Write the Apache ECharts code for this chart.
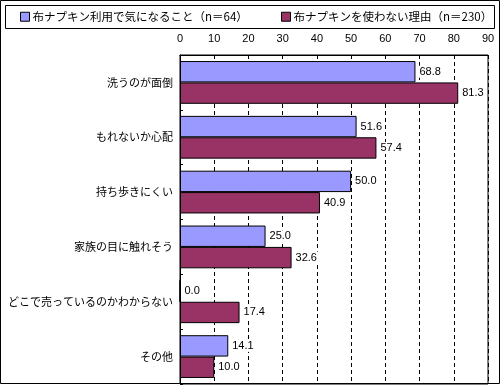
<!DOCTYPE html>
<html>
<head>
<meta charset="utf-8">
<script src="https://cdn.jsdelivr.net/npm/echarts@6/dist/echarts.min.js"></script>
<style>
html,body{margin:0;padding:0;background:#fff;}
#chart{width:500px;height:385px;}
</style>
</head>
<body>
<div id="chart"></div>
<script>
const categories = ['洗うのが面倒','もれないか心配','持ち歩きにくい','家族の目に触れそう','どこで売っているのかわからない','その他'];
const seriesNames = ['布ナプキン利用で気になること（n＝64）','布ナプキンを使わない理由（n＝230）'];
const usersValues = [68.8, 51.6, 50.0, 25.0, 0.0, 14.1];
const nonUsersValues = [81.3, 57.4, 40.9, 32.6, 17.4, 10.0];
const xMin = 0, xMax = 90, xInterval = 10;

const jp = '"Noto Sans CJK JP", sans-serif';
const num = '"Liberation Sans", Arial, sans-serif';

const chart = echarts.init(document.getElementById('chart'), null, {renderer: 'canvas'});
const labelCfg = {
  show: true, position: 'right', distance: 3, color: '#000',
  fontSize: 11, fontFamily: num,
  backgroundColor: '#fff', padding: [1, 1, 0, 1],
  formatter: p => p.value.toFixed(1)
};
const legendBase = {
  itemWidth: 9, itemHeight: 9, padding: 0, icon: 'rect', itemGap: 10,
  itemStyle: {borderColor: '#000', borderWidth: 1},
  textStyle: {fontSize: 11.5, fontFamily: jp, color: '#000', padding: [0, 0, 0, -2]}
};
chart.setOption({
  animation: false,
  backgroundColor: '#fff',
  graphic: [
    {type: 'rect', shape: {x: 0.5, y: 0.5, width: 499, height: 383}, style: {fill: 'none', stroke: '#000', lineWidth: 1}, z: 100},
    {type: 'rect', shape: {x: 5.5, y: 5.5, width: 489, height: 23}, style: {fill: 'none', stroke: '#000', lineWidth: 1}, z: 100}
  ],
  legend: [
    Object.assign({data: [seriesNames[0]], left: 20, top: 11}, legendBase),
    Object.assign({data: [seriesNames[1]], left: 281, top: 11}, legendBase)
  ],
  grid: {left: 180, right: 12, top: 55, bottom: 1, show: true, borderColor: '#000', borderWidth: 1, containLabel: false},
  xAxis: {
    type: 'value', position: 'top', min: xMin, max: xMax, interval: xInterval,
    axisLine: {show: true, lineStyle: {color: '#000', width: 1}},
    axisTick: {show: true, inside: true, length: 4, lineStyle: {color: '#000'}},
    axisLabel: {margin: 11, color: '#000', fontSize: 11, fontFamily: num},
    splitLine: {show: true, lineStyle: {color: '#000', type: [4, 3], width: 1}}
  },
  yAxis: {
    type: 'category', inverse: true, data: categories,
    axisLine: {show: true, lineStyle: {color: '#000', width: 1}},
    axisTick: {show: true, inside: true, length: 3, lineStyle: {color: '#000'}},
    axisLabel: {margin: 7, color: '#000', fontSize: 11, fontFamily: jp},
    splitLine: {show: false}
  },
  series: [
    {name: seriesNames[0], type: 'bar', data: usersValues, barGap: '0%', barCategoryGap: '22%',
     itemStyle: {color: '#9999FF', borderColor: '#000', borderWidth: 1}, label: labelCfg},
    {name: seriesNames[1], type: 'bar', data: nonUsersValues, barGap: '0%', barCategoryGap: '22%',
     itemStyle: {color: '#993366', borderColor: '#000', borderWidth: 1}, label: labelCfg}
  ]
});
</script>
</body>
</html>
